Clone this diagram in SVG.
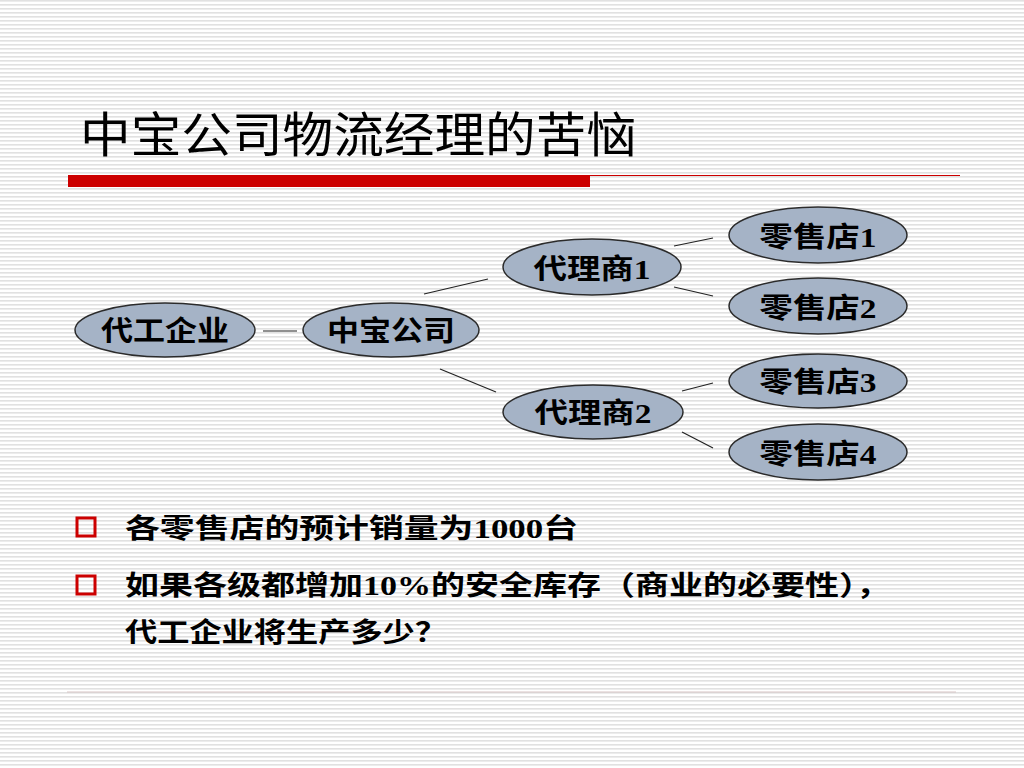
<svg xmlns="http://www.w3.org/2000/svg" width="1024" height="768" viewBox="0 0 1024 768">
<defs>
<pattern id="stripes" x="0" y="0" width="8" height="4" patternUnits="userSpaceOnUse">
<rect x="0" y="0" width="8" height="4" fill="#ffffff"/>
<rect x="0" y="0" width="8" height="1.6" fill="#e1e1e1"/>
</pattern>
<style>
.node ellipse{fill:#a5b3c6;stroke:#2b2b2b;stroke-width:1.5}
.node text{font-family:"Liberation Serif","Noto Sans CJK SC",serif;font-size:28px;font-weight:bold;fill:#000;text-anchor:middle}
.conn line{stroke:#222;stroke-width:1.2}
.title{font-family:"Noto Sans CJK SC",sans-serif;font-size:48px;fill:#000}
.body{font-family:"Liberation Serif","Noto Sans CJK SC",serif;font-size:27px;font-weight:bold;fill:#000}
.bullet{fill:none;stroke:#cc0000;stroke-width:3}
</style>
</defs>
<rect x="0" y="0" width="1024" height="768" fill="url(#stripes)"/>

<g id="title">
<text class="title" x="80" y="152" textLength="557" lengthAdjust="spacingAndGlyphs">中宝公司物流经理的苦恼</text>
<rect x="68" y="175" width="522" height="12" fill="#cc0000"/>
<line x1="590" y1="175.5" x2="960" y2="175.5" stroke="#cc0000" stroke-width="1.2"/>
</g>

<g id="connectors" class="conn">
<line x1="263" y1="331" x2="297" y2="331"/>
<line x1="424" y1="294" x2="488" y2="279"/>
<line x1="440" y1="369" x2="496" y2="392"/>
<line x1="674" y1="246" x2="713" y2="238"/>
<line x1="674" y1="287" x2="713" y2="296"/>
<line x1="682" y1="391" x2="713" y2="383"/>
<line x1="682" y1="432" x2="713" y2="448"/>
</g>

<g id="node-daigong" class="node">
<ellipse cx="165" cy="330" rx="90" ry="27"/>
<text x="165" y="341" textLength="128" lengthAdjust="spacingAndGlyphs">代工企业</text>
</g>
<g id="node-zhongbao" class="node">
<ellipse cx="391" cy="330" rx="88" ry="27"/>
<text x="391" y="341" textLength="128" lengthAdjust="spacingAndGlyphs">中宝公司</text>
</g>
<g id="node-agent1" class="node">
<ellipse cx="592" cy="267" rx="89" ry="28"/>
<text x="592" y="279" textLength="117" lengthAdjust="spacingAndGlyphs">代理商1</text>
</g>
<g id="node-agent2" class="node">
<ellipse cx="593" cy="412" rx="90" ry="27"/>
<text x="593" y="423" textLength="117" lengthAdjust="spacingAndGlyphs">代理商2</text>
</g>
<g id="node-store1" class="node">
<ellipse cx="818" cy="235" rx="89" ry="28"/>
<text x="818" y="247" textLength="117" lengthAdjust="spacingAndGlyphs">零售店1</text>
</g>
<g id="node-store2" class="node">
<ellipse cx="818" cy="306" rx="89" ry="28"/>
<text x="818" y="318" textLength="117" lengthAdjust="spacingAndGlyphs">零售店2</text>
</g>
<g id="node-store3" class="node">
<ellipse cx="818" cy="381" rx="89" ry="27"/>
<text x="818" y="392" textLength="117" lengthAdjust="spacingAndGlyphs">零售店3</text>
</g>
<g id="node-store4" class="node">
<ellipse cx="818" cy="452" rx="89" ry="28"/>
<text x="818" y="464" textLength="117" lengthAdjust="spacingAndGlyphs">零售店4</text>
</g>

<g id="bullets">
<rect class="bullet" x="77" y="518" width="18" height="18"/>
<rect class="bullet" x="77" y="576" width="18" height="18"/>
<text class="body" x="125" y="538" textLength="453" lengthAdjust="spacingAndGlyphs">各零售店的预计销量为1000台</text>
<text class="body" x="125" y="595" textLength="765" lengthAdjust="spacingAndGlyphs">如果各级都增加10%的安全库存（商业的必要性），</text>
<text class="body" x="125" y="642" textLength="322" lengthAdjust="spacingAndGlyphs">代工企业将生产多少？</text>
</g>

<line id="footer-line" x1="67" y1="692" x2="956" y2="692" stroke="#d8c6c6" stroke-width="1.2"/>
</svg>
